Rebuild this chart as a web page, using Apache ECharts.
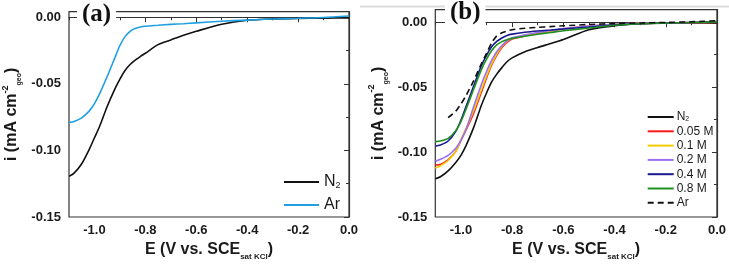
<!DOCTYPE html>
<html>
<head>
<meta charset="utf-8">
<script src="https://cdn.jsdelivr.net/npm/echarts@6/dist/echarts.min.js"></script>
<style>
  html, body { margin: 0; padding: 0; background: #fff; }
  #main { width: 729px; height: 266px; }
</style>
</head>
<body>
<div id="main"></div>
<script>
// potential grid (V vs. SCE)
var potential = [-1.1, -1.08, -1.05, -1.02, -1.0, -0.98, -0.95, -0.92, -0.9, -0.88, -0.86, -0.84,
                 -0.82, -0.8, -0.75, -0.7, -0.65, -0.6, -0.5, -0.4, -0.3, -0.2, -0.1, 0.0];

// panel (a)
var aN2 = [-0.1195, -0.117, -0.110, -0.099, -0.0905, -0.082, -0.067, -0.054, -0.0465, -0.040, -0.0355, -0.0322,
           -0.0295, -0.027, -0.0205, -0.017, -0.0135, -0.0105, -0.0052, -0.0022, -0.0012, -0.0008, -0.0006, -0.0005];
var aAr = [-0.079, -0.0782, -0.0755, -0.0703, -0.0648, -0.0575, -0.0445, -0.0305, -0.0212, -0.0145, -0.0105, -0.0084,
           -0.0073, -0.0067, -0.006, -0.0053, -0.0048, -0.0042, -0.003, -0.0021, -0.0013, -0.0007, -0.0001, 0.001];

// panel (b)
var bN2 = [-0.1205, -0.119, -0.1145, -0.108, -0.1025, -0.095, -0.081, -0.064, -0.0545, -0.046, -0.040, -0.035,
           -0.0305, -0.0275, -0.0228, -0.0195, -0.0165, -0.0133, -0.0058, -0.0028, -0.0012, -0.0008, -0.0007, -0.0007];
var b005 = [-0.110, -0.1095, -0.106, -0.0995, -0.091, -0.083, -0.070, -0.054, -0.043, -0.033, -0.0255, -0.0195,
            -0.0155, -0.013, -0.0105, -0.0085, -0.0068, -0.0052, -0.0032, -0.0018, -0.001, -0.0006, -0.0004, -0.0002];
var b01 = [-0.1123, -0.1105, -0.1065, -0.0995, -0.0905, -0.082, -0.068, -0.052, -0.0415, -0.032, -0.0245, -0.0185,
           -0.0147, -0.0124, -0.0101, -0.0082, -0.0066, -0.0051, -0.0031, -0.0017, -0.0009, -0.0005, -0.0003, -0.0001];
var b02 = [-0.107, -0.1055, -0.1025, -0.097, -0.091, -0.0825, -0.065, -0.048, -0.038, -0.0295, -0.0228, -0.018,
           -0.0143, -0.0121, -0.0098, -0.008, -0.0064, -0.005, -0.003, -0.0016, -0.0009, -0.0005, -0.0003, -0.0001];
var b04 = [-0.0953, -0.0945, -0.0915, -0.084, -0.0755, -0.065, -0.049, -0.0335, -0.0255, -0.019, -0.0148, -0.0122,
           -0.0102, -0.0092, -0.0078, -0.0068, -0.006, -0.0052, -0.0038, -0.0022, -0.0012, -0.0006, -0.0002, 0.0002];
var b08 = [-0.092, -0.0915, -0.0895, -0.0835, -0.0765, -0.067, -0.0515, -0.0365, -0.0285, -0.022, -0.0175, -0.015,
           -0.0135, -0.0125, -0.0108, -0.0093, -0.008, -0.0066, -0.0045, -0.0024, -0.0012, -0.0006, -0.0002, 0.0002];
var bAr = [null, null, -0.0735, -0.0685, -0.063, -0.0565, -0.045, -0.032, -0.024, -0.016, -0.0105, -0.0082,
           -0.0068, -0.0058, -0.0047, -0.004, -0.0034, -0.0028, -0.0018, -0.0011, -0.0006, -0.0002, 0.0003, 0.0012];

// ticks
var xMajor = [-1.0, -0.8, -0.6, -0.4, -0.2, 0.0];
var xMinor = [-1.1, -0.9, -0.7, -0.5, -0.3, -0.1];
var yMajor = [-0.15, -0.10, -0.05, 0.0];
var yMinor = [-0.125, -0.075, -0.025];

var legendA = ['N2', 'Ar'];
var legendB = ['N2 ', '0.05 M', '0.1 M', '0.2 M', '0.4 M', '0.8 M', 'Ar '];

function pairs(vals) {
    return potential.map(function (e, k) { return [e, vals[k]]; });
}

var axisColor = '#333';
var labelFont = { fontFamily: 'Liberation Sans', fontWeight: 'bold', fontSize: 13, color: '#1a1a1a' };

function xAxes(grid) {
    return [
        {
            type: 'value', gridIndex: grid, min: -1.1, max: 0,
            axisLine: { lineStyle: { color: axisColor, width: 1.2 } },
            axisTick: { customValues: xMajor, length: 5, lineStyle: { color: axisColor } },
            axisLabel: Object.assign({ customValues: xMajor, margin: 7,
                formatter: function (v) { return Math.abs(v) < 1e-9 ? '0.0' : v.toFixed(1); } }, labelFont),
            splitLine: { show: false },
            name: '{m|E (V vs. SCE}{s|sat KCl}{m|)}',
            nameLocation: 'middle', nameGap: 22,
            nameTextStyle: {
                rich: {
                    m: { fontFamily: 'Liberation Sans', fontWeight: 'bold', fontSize: 16, color: '#1a1a1a', lineHeight: 22 },
                    s: { fontFamily: 'Liberation Sans', fontWeight: 'bold', fontSize: 8, color: '#1a1a1a', verticalAlign: 'bottom', lineHeight: 10 }
                }
            }
        },
        {
            type: 'value', gridIndex: grid, min: -1.1, max: 0, position: 'bottom',
            axisLine: { show: false },
            axisTick: { customValues: xMinor, length: 3, lineStyle: { color: axisColor } },
            axisLabel: { show: false },
            splitLine: { show: false }
        }
    ];
}

function yAxes(grid, max) {
    return [
        {
            type: 'value', gridIndex: grid, min: -0.15, max: max,
            axisLine: { show: true, lineStyle: { color: axisColor, width: 1.2 } },
            axisTick: { show: true, customValues: yMajor, length: 5, lineStyle: { color: axisColor } },
            axisLabel: Object.assign({ customValues: yMajor, margin: 8,
                formatter: function (v) { return Math.abs(v) < 1e-9 ? '0.00' : v.toFixed(2); } }, labelFont),
            splitLine: { show: false },
            name: '{m|i (mA cm}{p|-2}{s|geo}{m|)}',
            nameLocation: 'middle', nameGap: 46, nameRotate: 90,
            nameTextStyle: {
                rich: {
                    m: { fontFamily: 'Liberation Sans', fontWeight: 'bold', fontSize: 16, color: '#1a1a1a', lineHeight: 22 },
                    p: { fontFamily: 'Liberation Sans', fontWeight: 'bold', fontSize: 9, color: '#1a1a1a', verticalAlign: 'top', lineHeight: 10 },
                    s: { fontFamily: 'Liberation Sans', fontWeight: 'bold', fontSize: 7, color: '#1a1a1a', verticalAlign: 'bottom', lineHeight: 9 }
                }
            }
        },
        {
            type: 'value', gridIndex: grid, min: -0.15, max: max, position: 'left',
            axisLine: { show: false },
            axisTick: { show: true, customValues: yMinor, length: 3, lineStyle: { color: axisColor } },
            axisLabel: { show: false },
            splitLine: { show: false }
        }
    ];
}

function line(name, xi, yi, vals, color, dashed) {
    return {
        name: name, type: 'line', xAxisIndex: xi, yAxisIndex: yi,
        data: pairs(vals), showSymbol: false, symbol: 'none',
        smooth: 0.25, connectNulls: false,
        lineStyle: { color: color, width: 1.6, type: dashed ? [6, 4] : 'solid' },
        itemStyle: { color: color },
        emphasis: { disabled: true }
    };
}

function legendText(name) {
    var n = name.trim();
    return n === 'N2' ? 'N{s|2}' : n;
}

var chart = echarts.init(document.getElementById('main'));
chart.setOption({
    animation: false,
    backgroundColor: '#fff',
    title: [
        { text: '(a)', left: 77, top: 0, padding: [2, 5], backgroundColor: '#fff',
          textStyle: { fontFamily: 'Liberation Serif', fontWeight: 'bold', fontSize: 25, color: '#111' } },
        { text: '(b)', left: 445, top: -2, padding: [2, 5], backgroundColor: '#fff',
          textStyle: { fontFamily: 'Liberation Serif', fontWeight: 'bold', fontSize: 25, color: '#111' } }
    ],
    graphic: [
        { type: 'line', shape: { x1: 360, y1: 6.5, x2: 729, y2: 6.5 }, style: { stroke: '#dcdcdc', lineWidth: 2 }, z: -1 }
    ],
    grid: [
        { left: 67.5, top: 11.7, width: 281.5, height: 207.3, show: true, borderColor: axisColor, borderWidth: 1.2, backgroundColor: 'transparent' },
        { left: 435.3, top: 9.7, width: 284, height: 208.6, show: true, borderColor: axisColor, borderWidth: 1.2, backgroundColor: 'transparent' }
    ],
    xAxis: xAxes(0).concat(xAxes(1)),
    yAxis: yAxes(0, 0.0042).concat(yAxes(1, 0.0096)),
    legend: [
        {
            data: legendA, orient: 'vertical', left: 278, top: 169,
            itemWidth: 35, itemHeight: 14, itemGap: 7, selectedMode: false,
            itemStyle: { color: 'rgba(0,0,0,0)', borderWidth: 0, opacity: 0 },
            formatter: legendText,
            textStyle: { fontFamily: 'Liberation Sans', fontSize: 16, color: '#1a1a1a', lineHeight: 16,
                rich: { s: { fontFamily: 'Liberation Sans', fontSize: 9, verticalAlign: 'bottom', lineHeight: 12, color: '#1a1a1a' } } }
        },
        {
            data: legendB, orient: 'vertical', left: 641.7, top: 106,
            itemWidth: 26, itemHeight: 10, itemGap: 2.3, selectedMode: false,
            itemStyle: { color: 'rgba(0,0,0,0)', borderWidth: 0, opacity: 0 },
            formatter: legendText,
            textStyle: { fontFamily: 'Liberation Sans', fontSize: 12, color: '#1a1a1a', lineHeight: 12, padding: [0, 0, 0, -2],
                rich: { s: { fontFamily: 'Liberation Sans', fontSize: 7, verticalAlign: 'bottom', lineHeight: 9, color: '#1a1a1a' } } }
        }
    ],
    series: [
        line('N2', 0, 0, aN2, '#111111'),
        line('Ar', 0, 0, aAr, '#1ea0e2'),
        line('N2 ', 2, 2, bN2, '#111111'),
        line('0.05 M', 2, 2, b005, '#ff1a1a'),
        line('0.1 M', 2, 2, b01, '#f2cc00'),
        line('0.2 M', 2, 2, b02, '#9a70f2'),
        line('0.4 M', 2, 2, b04, '#18188f'),
        line('0.8 M', 2, 2, b08, '#1f8f1f'),
        line('Ar ', 2, 2, bAr, '#111111', true)
    ]
});
</script>
</body>
</html>
